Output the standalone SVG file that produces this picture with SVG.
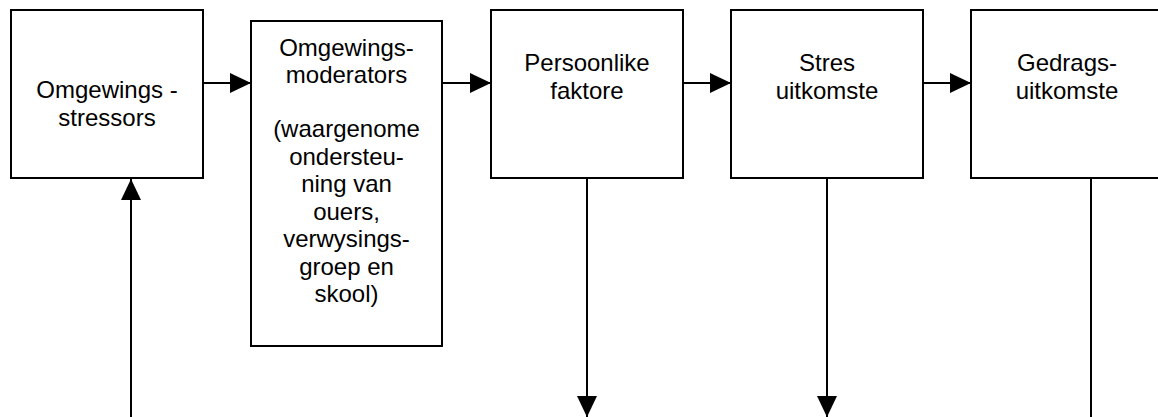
<svg xmlns="http://www.w3.org/2000/svg" width="1158" height="417" viewBox="0 0 1158 417">
<style>
.box{fill:#fff;stroke:#000;stroke-width:2}
.t{font-family:"Liberation Sans",Arial,sans-serif;font-size:24px;fill:#000;text-anchor:middle}
.c{stroke:#000;stroke-width:2;fill:none;marker-end:url(#ah)}
.n{stroke:#000;stroke-width:2;fill:none}
</style>
<defs>
<marker id="ah" markerUnits="userSpaceOnUse" markerWidth="21" markerHeight="20" refX="21" refY="10" orient="auto">
<path d="M0,0 L21,10 L0,20 z" fill="#000"/>
</marker>
</defs>
<rect width="1158" height="417" fill="#fff"/>
<g id="connectors">
<line class="c" x1="203" y1="83" x2="251" y2="83"/>
<line class="c" x1="442" y1="83" x2="491" y2="83"/>
<line class="c" x1="683" y1="83" x2="731" y2="83"/>
<line class="c" x1="923" y1="83" x2="971" y2="83"/>
<line class="c" x1="131" y1="417" x2="131" y2="179"/>
<line class="c" x1="587" y1="178" x2="587" y2="417"/>
<line class="c" x1="827" y1="178" x2="827" y2="417"/>
<line class="n" x1="1091" y1="178" x2="1091" y2="417"/>
</g>
<g id="n1">
<rect class="box" x="11" y="10" width="192" height="168"/>
<text class="t" x="107" y="98">Omgewings -</text>
<text class="t" x="107" y="125.5">stressors</text>
</g>
<g id="n2">
<rect class="box" x="251" y="21" width="191" height="325"/>
<text class="t" x="346.5" y="56">Omgewings-</text>
<text class="t" x="346.5" y="83">moderators</text>
<text class="t" x="346.5" y="137">(waargenome</text>
<text class="t" x="346.5" y="164.5">ondersteu-</text>
<text class="t" x="346.5" y="192">ning van</text>
<text class="t" x="346.5" y="219.5">ouers,</text>
<text class="t" x="346.5" y="247">verwysings-</text>
<text class="t" x="346.5" y="274.5">groep en</text>
<text class="t" x="346.5" y="302">skool)</text>
</g>
<g id="n3">
<rect class="box" x="491" y="10" width="192" height="168"/>
<text class="t" x="587" y="71">Persoonlike</text>
<text class="t" x="587" y="99">faktore</text>
</g>
<g id="n4">
<rect class="box" x="731" y="10" width="192" height="168"/>
<text class="t" x="827" y="71">Stres</text>
<text class="t" x="827" y="99">uitkomste</text>
</g>
<g id="n5">
<rect class="box" x="971" y="10" width="192" height="168"/>
<text class="t" x="1067" y="71">Gedrags-</text>
<text class="t" x="1067" y="99">uitkomste</text>
</g>
</svg>
